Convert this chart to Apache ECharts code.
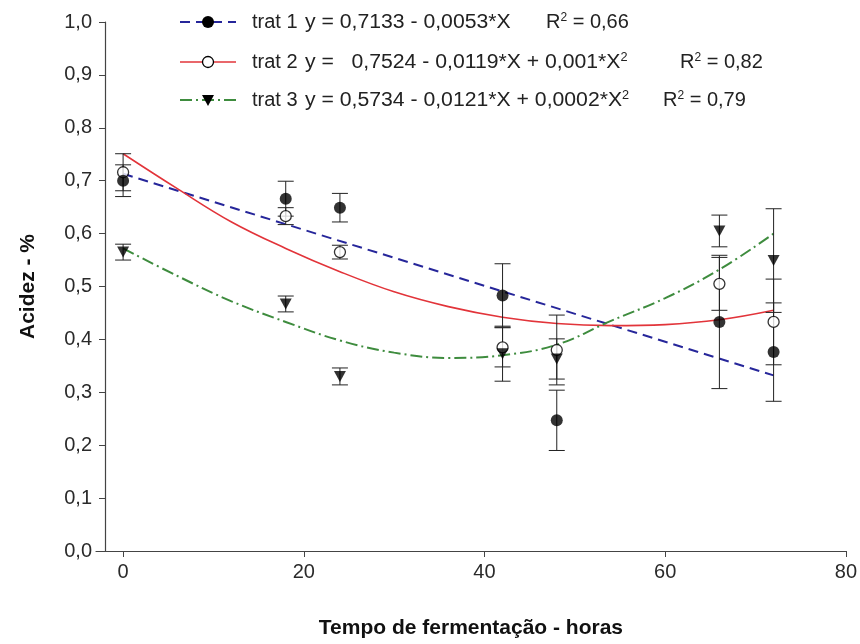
<!DOCTYPE html>
<html lang="pt">
<head>
<meta charset="UTF-8">
<title>Acidez x tempo de fermentação</title>
<script src="https://cdn.jsdelivr.net/npm/echarts@6/dist/echarts.min.js"></script>
<style>html,body{margin:0;padding:0;background:#fff;}</style>
</head>
<body>
<div id="main" style="width:860px;height:644px;"></div>
<script>
// tempos de coleta (horas)
var horas = [0, 18, 24, 42, 48, 66, 72];
// médias e desvios
var trat1Media  = [0.700, 0.666, 0.649, 0.483, 0.247, 0.433, 0.376];
var trat1Desvio = [0.030, 0.033, 0.027, 0.060, 0.057, 0.126, 0.093];
var trat2Media  = [0.716, 0.633, 0.565, 0.385, 0.380, 0.505, 0.433];
var trat2Desvio = [0.035, 0.016, 0.013, 0.037, 0.066, 0.050, 0.081];
var trat3Media  = [0.565, 0.467, 0.330, 0.373, 0.363, 0.605, 0.549];
var trat3Desvio = [0.015, 0.015, 0.016, 0.052, 0.038, 0.030, 0.098];
// curvas de regressão
var reta1X = [0, 72];
var reta1Y = [0.713, 0.332];
var curvaX = [0, 6, 12, 18, 24, 30, 36, 42, 48, 54, 60, 66, 72];
var curva2Y = [0.751, 0.685, 0.622, 0.572, 0.528, 0.490, 0.462, 0.442, 0.430, 0.426, 0.428, 0.437, 0.455];
var curva3Y = [0.572, 0.520, 0.472, 0.433, 0.398, 0.375, 0.365, 0.370, 0.390, 0.435, 0.478, 0.532, 0.600];
// marcas dos eixos
var xTicks = [0, 20, 40, 60, 80];
var nomes = ['trat 1', 'trat 2', 'trat 3'];
var equacoes = ['y = 0,7133 - 0,0053*X', 'y =   0,7524 - 0,0119*X + 0,001*X', 'y = 0,5734 - 0,0121*X + 0,0002*X'];
var r2 = ['0,66', '0,82', '0,79'];

var azul = '#26269a', vermelho = '#e2343a', verde = '#3e8c3e';
var fonte = '"Liberation Sans", Arial, sans-serif';

function pares(xs, ys) {
    var out = [];
    for (var i = 0; i < xs.length; i++) out.push([xs[i], ys[i]]);
    return out;
}
function barras(media, desvio) {
    var out = [];
    for (var i = 0; i < horas.length; i++) out.push([horas[i], media[i] - desvio[i], media[i] + desvio[i]]);
    return out;
}
function barraErro(params, api) {
    var x = api.value(0);
    var a = api.coord([x, api.value(1)]);
    var b = api.coord([x, api.value(2)]);
    var w = 8;
    var st = {stroke: '#222', lineWidth: 1};
    return {type: 'group', children: [
        {type: 'line', shape: {x1: a[0], y1: a[1], x2: b[0], y2: b[1]}, style: st},
        {type: 'line', shape: {x1: a[0] - w, y1: a[1], x2: a[0] + w, y2: a[1]}, style: st},
        {type: 'line', shape: {x1: b[0] - w, y1: b[1], x2: b[0] + w, y2: b[1]}, style: st}
    ]};
}

var myChart = echarts.init(document.getElementById('main'));

// legenda desenhada à mão (linha + marcador + equação)
var legenda = [];
var linhas = [
    {color: azul, dash: [10, 6], width: 2},
    {color: vermelho, dash: null, width: 1.6},
    {color: verde, dash: [12, 4, 2, 4], width: 2}
];
var rowY = [22, 62, 100];
var rX = [546, 680, 663];
var ricos = {a: {fontSize: 20, fontFamily: fonte, fill: '#222'}, s: {fontSize: 12, fontFamily: fonte, fill: '#222', verticalAlign: 'top'}};
for (var i = 0; i < 3; i++) {
    var y = rowY[i];
    legenda.push({type: 'line', shape: {x1: 180, y1: y, x2: 236, y2: y},
        style: {stroke: linhas[i].color, lineWidth: linhas[i].width, lineDash: linhas[i].dash}});
    if (i === 0) {
        legenda.push({type: 'circle', shape: {cx: 208, cy: y, r: 6}, style: {fill: '#000'}});
    } else if (i === 1) {
        legenda.push({type: 'circle', shape: {cx: 208, cy: y, r: 5.5}, style: {fill: '#fff', stroke: '#000', lineWidth: 1.3}});
    } else {
        legenda.push({type: 'polygon', shape: {points: [[202, y - 5], [214, y - 5], [208, y + 6]]}, style: {fill: '#000'}});
    }
    legenda.push({type: 'text', x: 252, y: y, style: {text: nomes[i], font: '20px ' + fonte, fill: '#222', verticalAlign: 'middle'}});
    var eq = i === 0 ? '{a|' + equacoes[i] + '}' : '{a|' + equacoes[i] + '}{s|2}';
    legenda.push({type: 'text', x: 305, y: y, scaleX: 1.06, style: {text: eq, font: '20px ' + fonte, fill: '#222', verticalAlign: 'middle', rich: ricos}});
    legenda.push({type: 'text', x: rX[i], y: y, style: {text: '{a|R}{s|2}{a| = ' + r2[i] + '}', font: '20px ' + fonte, fill: '#222', verticalAlign: 'middle', rich: ricos}});
}

var option = {
    animation: false,
    backgroundColor: '#fff',
    textStyle: {fontFamily: fonte},
    grid: {left: 96, right: 10, top: 22, bottom: 91, containLabel: false},
    xAxis: {
        type: 'value', min: -3, max: 80,
        name: 'Tempo de fermentação - horas', nameLocation: 'middle', nameGap: 67,
        nameTextStyle: {fontSize: 21, fontWeight: 'bold', color: '#111', fontFamily: fonte},
        axisLine: {lineStyle: {color: '#444', width: 1.2}},
        axisTick: {customValues: xTicks, length: 6, lineStyle: {color: '#444'}},
        axisLabel: {customValues: xTicks, fontSize: 20, color: '#2a2a2a', margin: 11, fontFamily: fonte},
        splitLine: {show: false}
    },
    yAxis: {
        type: 'value', min: 0, max: 1, interval: 0.1, offset: -9,
        name: 'Acidez - %', nameLocation: 'middle', nameGap: 66, nameRotate: 90,
        nameTextStyle: {fontSize: 21, fontWeight: 'bold', color: '#111', fontFamily: fonte},
        axisLine: {show: true, onZero: false, lineStyle: {color: '#444', width: 1.2}},
        axisTick: {show: true, length: 6, lineStyle: {color: '#444'}},
        axisLabel: {fontSize: 20, color: '#2a2a2a', margin: 13, fontFamily: fonte,
            formatter: function (v) { return v.toFixed(1).replace('.', ','); }},
        splitLine: {show: false}
    },
    graphic: legenda,
    series: [
        {name: 'ajuste 1', type: 'line', data: pares(reta1X, reta1Y), showSymbol: false, z: 2,
            lineStyle: {color: azul, width: 2, type: [10, 6]}},
        {name: 'ajuste 2', type: 'line', data: pares(curvaX, curva2Y), showSymbol: false, smooth: 0.4, z: 2,
            lineStyle: {color: vermelho, width: 1.6}},
        {name: 'ajuste 3', type: 'line', data: pares(curvaX, curva3Y), showSymbol: false, smooth: 0.4, z: 2,
            lineStyle: {color: verde, width: 2, type: [12, 4, 2, 4]}},
        {name: 'erro 1', type: 'custom', renderItem: barraErro, data: barras(trat1Media, trat1Desvio), z: 3},
        {name: 'erro 2', type: 'custom', renderItem: barraErro, data: barras(trat2Media, trat2Desvio), z: 3},
        {name: 'erro 3', type: 'custom', renderItem: barraErro, data: barras(trat3Media, trat3Desvio), z: 3},
        {name: 'trat 2', type: 'scatter', data: pares(horas, trat2Media), symbol: 'circle', symbolSize: 11, z: 4,
            itemStyle: {color: '#fff', borderColor: '#000', borderWidth: 1.3}},
        {name: 'trat 1', type: 'scatter', data: pares(horas, trat1Media), symbol: 'circle', symbolSize: 12, z: 5,
            itemStyle: {color: '#000'}},
        {name: 'trat 3', type: 'scatter', data: pares(horas, trat3Media), symbol: 'triangle', symbolRotate: 180, symbolSize: [12, 11], z: 5,
            itemStyle: {color: '#000'}}
    ]
};

myChart.setOption(option);
</script>
</body>
</html>
